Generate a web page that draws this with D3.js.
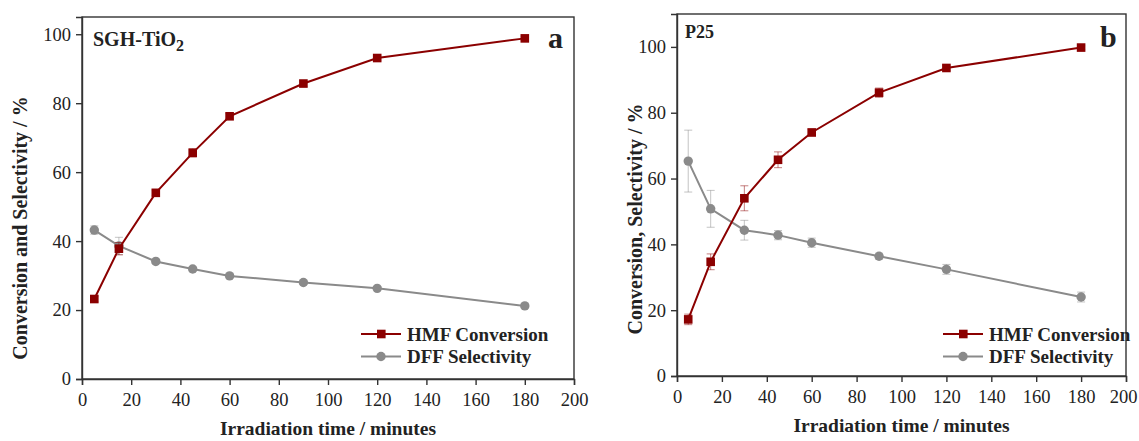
<!DOCTYPE html>
<html>
<head>
<meta charset="utf-8">
<script src="https://cdn.jsdelivr.net/npm/d3@7"></script>
<style>
  body { margin: 0; background: #fff; }
  text { font-family: "Liberation Serif", "Times New Roman", serif; fill: #222; }
</style>
</head>
<body>
<svg id="chart" width="1139" height="441"></svg>
<script>
// irradiation times (min)
var times = [5, 15, 30, 45, 60, 90, 120, 180];

// panel a - SGH-TiO2
var hmfA = [23.2, 37.8, 54.0, 65.6, 76.2, 85.7, 93.1, 98.8];
var hmfAErr = [0.8, 1.8, 0.8, 1.2, 0.8, 0.8, 0.6, 0.6];
var dffA = [43.2, 38.6, 34.1, 31.9, 29.9, 28.0, 26.3, 21.2];
var dffAErr = [1.2, 2.5, 0.6, 0.6, 0.6, 0.5, 0.5, 0.6];

// panel b - P25
var hmfB = [17.2, 34.7, 54.0, 65.7, 74.0, 86.1, 93.6, 99.8];
var hmfBErr = [1.6, 2.4, 3.8, 2.4, 1.0, 1.4, 0.8, 0.6];
var dffB = [65.3, 50.8, 44.3, 42.8, 40.5, 36.4, 32.4, 24.0];
var dffBErr = [9.4, 5.6, 3.0, 1.4, 1.4, 0.9, 1.5, 1.5];

var xTicks = [0, 20, 40, 60, 80, 100, 120, 140, 160, 180, 200];
var yTicks = [0, 20, 40, 60, 80, 100];

var RED = "#8b0000", GREY = "#8a8a8a";
var SERIF = "Liberation Serif, Times New Roman, serif";

var svg = d3.select("#chart");

function panel(o) {
    var x = d3.scaleLinear().domain([0, 200]).range([o.left, o.right]);
    var y = d3.scaleLinear().domain([0, o.ymax]).range([o.bottom, o.top]);
    var g = svg.append("g");

    // frame
    g.append("rect")
        .attr("x", o.left).attr("y", o.top)
        .attr("width", o.right - o.left).attr("height", o.bottom - o.top)
        .attr("fill", "none").attr("stroke", "#333").attr("stroke-width", 1.4);

    var xa = g.append("g")
        .attr("transform", "translate(0," + o.bottom + ")")
        .call(d3.axisBottom(x).tickValues(xTicks).tickSize(6).tickPadding(8).tickFormat(d3.format("d")));
    var ya = g.append("g")
        .attr("transform", "translate(" + o.left + ",0)")
        .call(d3.axisLeft(y).tickValues(yTicks).tickSize(6).tickPadding(5).tickFormat(d3.format("d")));
    [xa, ya].forEach(function(a) {
        a.attr("font-family", SERIF);
        a.select(".domain").attr("stroke", "#333").attr("stroke-width", 1.4);
        a.selectAll(".tick line").attr("stroke", "#333").attr("stroke-width", 1.4);
        a.selectAll(".tick text").attr("font-family", SERIF).style("font-size", "18.5px").attr("fill", "#222");
    });
    // keep the last x label inside the page edge
    if (o.clipLast) {
        xa.selectAll(".tick text").filter(function(d) { return d === 200; })
            .attr("text-anchor", "end").attr("dx", o.clipLast);
    }

    var line = d3.line().x(function(d) { return x(d.t); }).y(function(d) { return y(d.v); });

    function series(vals, errs, col, shape) {
        var data = times.map(function(t, i) { return {t: t, v: vals[i], e: errs[i]}; });
        // error bars
        var eb = g.append("g").attr("stroke", col).attr("stroke-opacity", 0.5).attr("stroke-width", 1);
        data.forEach(function(d) {
            eb.append("line").attr("x1", x(d.t)).attr("x2", x(d.t)).attr("y1", y(d.v - d.e)).attr("y2", y(d.v + d.e));
            eb.append("line").attr("x1", x(d.t) - 4).attr("x2", x(d.t) + 4).attr("y1", y(d.v - d.e)).attr("y2", y(d.v - d.e));
            eb.append("line").attr("x1", x(d.t) - 4).attr("x2", x(d.t) + 4).attr("y1", y(d.v + d.e)).attr("y2", y(d.v + d.e));
        });
        g.append("path").datum(data).attr("d", line)
            .attr("fill", "none").attr("stroke", col).attr("stroke-width", 2);
        if (shape === "sq") {
            g.selectAll(null).data(data).enter().append("rect")
                .attr("x", function(d) { return x(d.t) - 4.3; })
                .attr("y", function(d) { return y(d.v) - 4.3; })
                .attr("width", 8.6).attr("height", 8.6).attr("fill", col);
        } else {
            g.selectAll(null).data(data).enter().append("circle")
                .attr("cx", function(d) { return x(d.t); })
                .attr("cy", function(d) { return y(d.v); })
                .attr("r", 4.7).attr("fill", col);
        }
    }
    series(o.dff, o.dffErr, GREY, "ci");
    series(o.hmf, o.hmfErr, RED, "sq");

    // legend
    var lg = g.append("g");
    [["HMF Conversion", RED, "sq"], ["DFF Selectivity", GREY, "ci"]].forEach(function(l, i) {
        var ly = o.legY + i * 22.5;
        lg.append("line").attr("x1", o.legX).attr("x2", o.legX + 40).attr("y1", ly).attr("y2", ly)
            .attr("stroke", l[1]).attr("stroke-width", 2);
        if (l[2] === "sq") lg.append("rect").attr("x", o.legX + 16).attr("y", ly - 4.3).attr("width", 8.6).attr("height", 8.6).attr("fill", l[1]);
        else lg.append("circle").attr("cx", o.legX + 20).attr("cy", ly).attr("r", 4.7).attr("fill", l[1]);
        lg.append("text").attr("x", o.legX + 46).attr("y", ly + 6.5)
            .style("font-size", "19px").style("font-weight", "bold").text(l[0]);
    });

    // axis titles
    g.append("text").attr("x", (o.left + o.right) / 2).attr("y", o.xLabY)
        .attr("text-anchor", "middle").style("font-size", "19.5px").style("font-weight", "bold")
        .text("Irradiation time / minutes");
    g.append("text").attr("transform", "translate(" + o.yLabX + "," + o.yLabMid + ") rotate(-90)")
        .attr("text-anchor", "middle").style("font-size", "20px").style("font-weight", "bold")
        .text(o.yLabel);

    // panel letter
    g.append("text").attr("x", o.letterX).attr("y", o.letterY)
        .style("font-size", "30px").style("font-weight", "bold").text(o.letter);
    return g;
}

var ga = panel({
    left: 82, right: 574, top: 17, bottom: 379, ymax: 105,
    hmf: hmfA, hmfErr: hmfAErr, dff: dffA, dffErr: dffAErr,
    legX: 361, legY: 334, xLabY: 435, yLabX: 27, yLabMid: 228,
    yLabel: "Conversion and Selectivity / %", letter: "a", letterX: 548, letterY: 48
});
var sgh = ga.append("text").attr("x", 93).attr("y", 46).style("font-size", "20px").style("font-weight", "bold");
sgh.append("tspan").text("SGH-TiO");
sgh.append("tspan").attr("dy", 5).style("font-size", "16px").text("2");

var gb = panel({
    left: 677, right: 1126, top: 14, bottom: 376, ymax: 110,
    hmf: hmfB, hmfErr: hmfBErr, dff: dffB, dffErr: dffBErr,
    legX: 943, legY: 334, xLabY: 432, yLabX: 642, yLabMid: 219,
    yLabel: "Conversion, Selectivity / %", letter: "b", letterX: 1100, letterY: 47,
    clipLast: 11
});
gb.append("text").attr("x", 685).attr("y", 38).style("font-size", "18px").style("font-weight", "bold").text("P25");
</script>
</body>
</html>
